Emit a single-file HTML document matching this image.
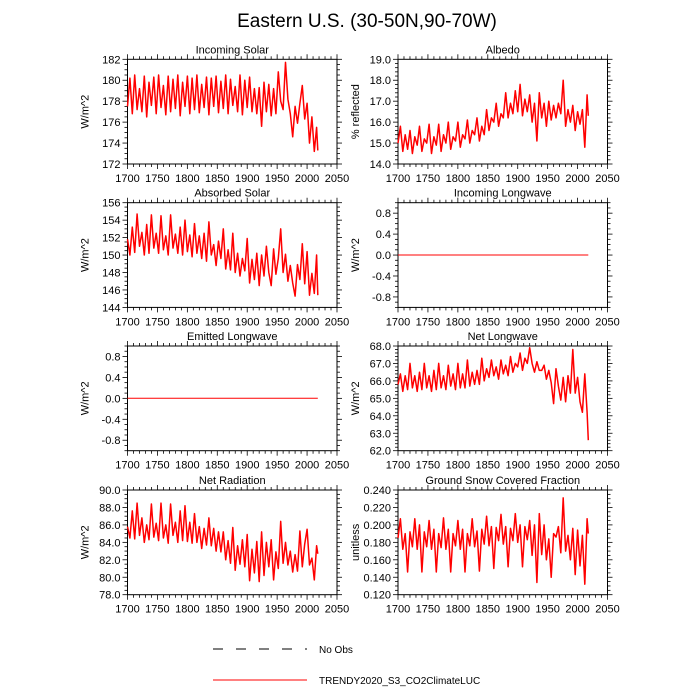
<!DOCTYPE html>
<html><head><meta charset="utf-8"><style>
body{margin:0;background:#fff}
svg{display:block;font-family:"Liberation Sans",sans-serif}
</style></head><body>
<svg id="c" width="700" height="700" viewBox="0 0 700 700">
<text x="367" y="27" font-size="19" text-anchor="middle">Eastern U.S. (30-50N,90-70W)</text>
<g>
<line x1="213" y1="649" x2="307" y2="649" stroke="#000" stroke-width="1" stroke-dasharray="10,13"/>
<text x="319" y="653" font-size="10">No Obs</text>
<line x1="213" y1="680" x2="307" y2="680" stroke="#f00" stroke-width="1"/>
<text x="319" y="684" font-size="10">TRENDY2020_S3_CO2ClimateLUC</text>
</g>
</svg>
<script>
const startYear = 1700, stepYear = 4, lastYear = 2018;
const incomingSolar = [177.5,180.2,176.8,180.5,177.2,179.2,177.0,180.4,176.5,179.8,177.6,180.3,176.8,180.5,177.4,179.5,176.7,180.4,177.0,180.1,177.3,180.5,176.6,179.8,177.5,180.4,176.8,180.2,177.2,180.5,176.9,179.6,177.4,180.3,176.7,180.2,177.5,180.4,176.9,179.9,177.3,180.5,176.8,180.1,177.6,179.4,177.0,180.5,176.7,180.0,177.4,180.3,177.0,179.2,176.8,179.3,175.6,179.8,177.0,179.6,176.6,179.2,176.8,180.8,178.0,177.2,181.7,178.2,176.8,174.6,177.5,175.9,177.8,179.5,176.3,177.8,174.0,176.5,173.2,175.5,173.3];
const albedo = [15.0,15.8,14.6,15.4,14.7,15.6,14.5,15.3,14.9,15.8,14.6,15.2,15.0,15.9,14.5,15.3,14.9,15.9,14.6,15.4,15.0,16.0,14.7,15.3,15.1,16.0,14.8,15.4,15.2,16.1,15.0,15.6,15.4,16.2,15.1,15.8,15.4,16.6,15.6,16.2,16.0,16.9,15.8,16.4,16.2,17.4,16.2,16.9,16.4,17.5,16.5,17.8,16.3,17.1,16.5,17.3,16.0,16.9,15.1,17.4,16.2,16.9,15.8,17.0,16.1,16.8,16.2,16.9,16.4,18.0,15.8,16.6,16.0,16.8,15.6,16.5,15.9,16.6,14.8,17.3,16.3];
const absorbedSolar = [151.8,150.0,153.2,150.3,154.7,151.0,152.6,150.0,153.5,150.2,154.6,150.8,152.5,150.2,154.5,150.6,152.2,150.0,154.6,150.8,152.4,150.2,153.2,150.0,154.0,150.4,152.3,149.8,153.6,150.2,152.2,149.6,152.5,149.3,153.8,150.0,151.2,148.8,151.6,149.6,153.0,148.4,150.6,148.3,152.5,148.0,150.2,147.6,149.6,148.2,151.9,146.8,149.5,147.2,150.2,146.5,150.0,147.6,151.0,148.0,146.5,150.7,147.8,149.6,153.0,148.0,150.1,147.0,148.8,146.8,145.3,148.9,147.2,151.3,146.7,150.4,145.4,147.9,145.6,150.0,145.4];
const incomingLongwave = [0,0];
const emittedLongwave = [0,0];
const netLongwave = [65.8,66.4,65.4,66.3,65.5,67.0,65.6,66.3,65.4,66.5,65.5,67.0,65.6,66.3,65.4,66.6,65.5,67.0,65.6,66.3,65.5,66.9,65.7,66.4,65.5,67.0,65.6,66.4,65.6,67.2,65.7,66.5,65.8,66.6,65.8,67.3,66.0,66.7,66.2,67.2,66.3,66.8,66.1,67.2,66.4,66.9,66.3,67.4,66.5,67.0,66.8,67.6,66.6,67.3,67.0,67.9,67.0,66.5,67.1,66.6,66.6,66.9,66.1,66.6,65.9,64.7,66.7,65.7,64.9,66.2,64.8,66.3,65.3,67.8,65.3,66.2,64.8,64.2,66.4,64.2,62.6];
const netRadiation = [85.8,84.5,87.6,84.4,88.5,84.8,86.8,84.0,86.0,84.3,88.4,84.6,86.2,84.2,88.5,84.5,86.0,83.9,88.4,84.8,86.3,84.0,87.6,84.2,88.2,84.1,86.3,83.9,87.3,84.0,85.8,83.3,85.6,83.7,86.8,83.6,85.6,83.0,85.2,82.9,85.2,82.0,84.2,81.6,85.7,80.8,83.6,81.5,84.3,81.2,84.9,79.6,83.2,80.5,84.1,79.5,85.2,80.2,84.0,81.2,84.3,79.7,82.9,81.0,86.4,81.6,84.0,81.4,83.0,80.6,82.6,80.7,85.3,81.2,83.8,85.5,81.4,82.2,79.7,83.6,82.7];
const snowFraction = [0.185,0.207,0.172,0.190,0.146,0.192,0.175,0.207,0.172,0.200,0.146,0.192,0.175,0.205,0.172,0.195,0.146,0.190,0.174,0.208,0.172,0.195,0.146,0.190,0.176,0.205,0.172,0.195,0.146,0.190,0.176,0.207,0.175,0.193,0.147,0.195,0.178,0.210,0.176,0.198,0.150,0.197,0.182,0.212,0.178,0.198,0.152,0.196,0.182,0.213,0.180,0.200,0.152,0.198,0.183,0.205,0.165,0.200,0.134,0.213,0.166,0.200,0.160,0.184,0.140,0.190,0.186,0.198,0.168,0.231,0.170,0.188,0.160,0.196,0.143,0.194,0.153,0.188,0.132,0.207,0.190];
const xTicks = [1700,1750,1800,1850,1900,1950,2000,2050];

const NS='http://www.w3.org/2000/svg';
const svg=document.getElementById('c');
function mk(tag,attrs,parent){const e=document.createElementNS(NS,tag);for(const k in attrs)e.setAttribute(k,attrs[k]);(parent||svg).appendChild(e);return e;}

const panels=[
 {name:'incoming-solar',title:'Incoming Solar',ylab:'W/m^2',data:incomingSolar,ymin:172,ymax:182,major:2,minor:4,dec:0,col:0,row:0,zero:false},
 {name:'albedo',title:'Albedo',ylab:'% reflected',data:albedo,ymin:14,ymax:19,major:1,minor:5,dec:1,col:1,row:0,zero:false},
 {name:'absorbed-solar',title:'Absorbed Solar',ylab:'W/m^2',data:absorbedSolar,ymin:144,ymax:156,major:2,minor:4,dec:0,col:0,row:1,zero:false},
 {name:'incoming-longwave',title:'Incoming Longwave',ylab:'W/m^2',data:incomingLongwave,ymin:-1,ymax:1,major:0.4,minor:4,dec:1,col:1,row:1,zero:true,tickStart:-0.8},
 {name:'emitted-longwave',title:'Emitted Longwave',ylab:'W/m^2',data:emittedLongwave,ymin:-1,ymax:1,major:0.4,minor:4,dec:1,col:0,row:2,zero:true,tickStart:-0.8},
 {name:'net-longwave',title:'Net Longwave',ylab:'W/m^2',data:netLongwave,ymin:62,ymax:68,major:1,minor:5,dec:1,col:1,row:2,zero:false},
 {name:'net-radiation',title:'Net Radiation',ylab:'W/m^2',data:netRadiation,ymin:78,ymax:90,major:2,minor:4,dec:1,col:0,row:3,zero:false},
 {name:'snow-fraction',title:'Ground Snow Covered Fraction',ylab:'unitless',data:snowFraction,ymin:0.12,ymax:0.24,major:0.02,minor:4,dec:3,col:1,row:3,zero:false}
];
const lefts=[127.5,398], tops=[59.3,202.7,346,490], W=209.5, H=104.7;

panels.forEach(p=>{
 const L=lefts[p.col],T=tops[p.row];
 const g=mk('g',{});
 
 
 const xs=v=>L+(v-1700)/350*W;
 const ys=v=>T+H-(v-p.ymin)/(p.ymax-p.ymin)*H;
 for(let yr=1700;yr<=2050;yr+=10){
  const len=(yr%50===0)?5:3,x=xs(yr);
  mk('line',{x1:x,y1:T,x2:x,y2:T-len,stroke:'#000','stroke-width':0.8},g);
  mk('line',{x1:x,y1:T+H,x2:x,y2:T+H+len,stroke:'#000','stroke-width':0.8},g);
 }
 const start=p.tickStart!==undefined?p.tickStart:p.ymin;
 const mstep=p.major/p.minor;
 for(let v=p.ymin;v<=p.ymax+1e-9;v+=mstep){
  const y=ys(v);
  const isMaj=Math.abs(((v-start)/p.major)-Math.round((v-start)/p.major))<1e-6 && v>=start-1e-9 && !(p.zero&&Math.abs(v)>0.9);
  const len=isMaj?5:3;
  mk('line',{x1:L,y1:y,x2:L-len,y2:y,stroke:'#000','stroke-width':0.8},g);
  mk('line',{x1:L+W,y1:y,x2:L+W+len,y2:y,stroke:'#000','stroke-width':0.8},g);
 }
 for(let v=start;v<=p.ymax+1e-9;v+=p.major){
  if(p.zero&&Math.abs(v)>0.9)continue;
  const t=mk('text',{x:L-7,y:ys(v)+4,'font-size':11,'text-anchor':'end'},g);
  t.textContent=(Math.abs(v)<1e-9?0:v).toFixed(p.dec);
  
  
 }
 xTicks.forEach(v=>{
  const t=mk('text',{x:xs(v),y:T+H+18,'font-size':11,'text-anchor':'middle'},g);
  t.textContent=v;
  
  
 });
 mk('rect',{x:L,y:T,width:W,height:H,fill:'none',stroke:'#000','stroke-width':1},g);
 const tt=mk('text',{x:L+W/2,y:T-6,'font-size':11,'text-anchor':'middle'},g);
 tt.textContent=p.title;
 
 
 const yx=L-39;
 const yl=mk('text',{x:yx,y:T+H/2,'font-size':11,'text-anchor':'middle',transform:`rotate(-90 ${yx} ${T+H/2})`},g);
 yl.textContent=p.ylab;
 
 
 let pts=[];
 if(p.zero){
  pts=[[xs(1700),ys(p.data[0])],[xs(lastYear),ys(p.data[1])]];
 } else {
  p.data.forEach((v,i)=>{const yr=i===p.data.length-1?lastYear:startYear+i*stepYear;pts.push([xs(yr),ys(v)]);});
 }
 const pl=mk('polyline',{points:pts.map(q=>q[0].toFixed(1)+','+q[1].toFixed(1)).join(' '),fill:'none',stroke:'#f00','stroke-width':p.zero?1:1.5,'stroke-linejoin':'round'},g);
 
 
});
</script>
</body></html>
